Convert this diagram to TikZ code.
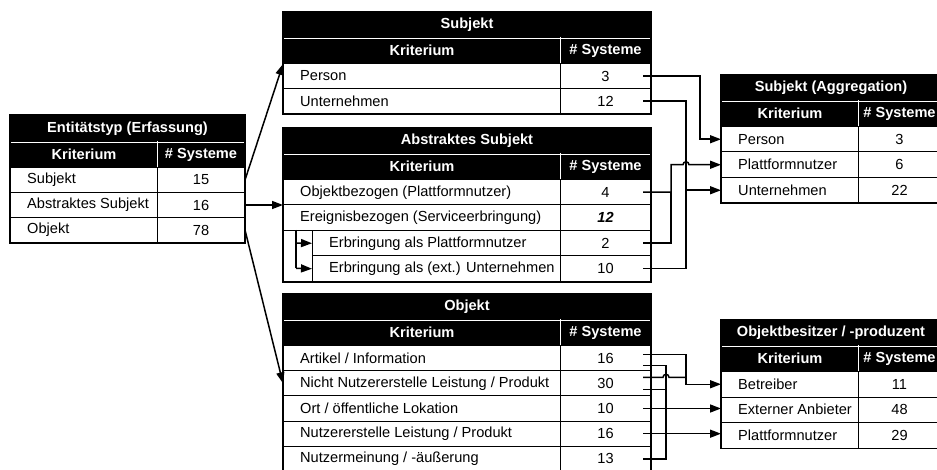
\documentclass[tikz,border=0pt]{standalone}
\usepackage{fontspec}
\setmainfont{Liberation Sans}
\usetikzlibrary{arrows.meta,calc}
\tikzset{
  txt/.style={font=\fontsize{14.6}{17}\selectfont},
  cellbox/.style={txt, draw=black, line width=1pt, inner sep=0pt, anchor=north west},
  celltxt/.style={txt, anchor=west, inner sep=0pt},
  titlebox/.style={txt, fill=black, draw=black, line width=1pt, text=white, font=\fontsize{14.6}{17}\selectfont\bfseries, inner sep=0pt, anchor=north west},
  sepline/.style={white, line width=0.7pt},
  border/.style={draw=black, line width=1.7pt},
  conn/.style={draw=black, line width=1.5pt},
  tip/.style={-{Triangle[length=11pt,width=8pt]}},
}
% name, x0, xc, x1, ytop, h, text, number
\newcommand{\Trow}[8]{%
  \node[cellbox, minimum width={#3-#2}, minimum height=#6] (#1k) at (#2,#5) {};
  \node[celltxt] at ([xshift=17pt]#1k.west) {#7};
  \node[cellbox, minimum width={#4-#3}, minimum height=#6] (#1) at (#3,#5) {#8};
}
% name, x0, xc, x1, ytop, title, titleheight, headerheight
\newcommand{\Thead}[8]{%
  \node[titlebox, minimum width={#4-#2}, minimum height=#7] (#1t) at (#2,#5) {#6};
  \node[titlebox, minimum width={#3-#2}, minimum height=#8] (#1ha) at (#2,#5+#7) {Kriterium};
  \node[titlebox, minimum width={#4-#3}, minimum height=#8] (#1hb) at (#3,#5+#7) {\# Systeme};
  \draw[sepline] ([xshift=1pt]#1t.south west) -- ([xshift=-1pt]#1t.south east);
  \draw[sepline] (#1hb.north west) -- (#1hb.south west);
}
\begin{document}
\begin{tikzpicture}[x=1pt,y=-1pt]
\useasboundingbox (0,0) rectangle (937,470);
\clip (0,0) rectangle (937,470);

% ---------- Table 1: Entitaetstyp ----------
\Thead{ta}{10}{157}{244}{115}{Entitätstyp (Erfassung)}{26}{26}
\Trow{tar1}{10}{157}{244}{167}{25}{Subjekt}{15}
\Trow{tar2}{10}{157}{244}{192}{25}{Abstraktes Subjekt}{16}
\Trow{tar3}{10}{157}{244}{217}{25}{Objekt}{78}
\draw[border] (tat.north west) rectangle (tar3.south east);

% ---------- Table 2: Subjekt ----------
\Thead{tb}{283}{560}{650}{12}{Subjekt}{25}{26}
\Trow{tbr1}{283}{560}{650}{63}{25}{Person}{3}
\Trow{tbr2}{283}{560}{650}{88}{25}{Unternehmen}{12}
\draw[border] (tbt.north west) rectangle (tbr2.south east);

% ---------- Table 3: Abstraktes Subjekt ----------
\Thead{tc}{283}{560}{650}{128}{Abstraktes Subjekt}{25}{26}
\Trow{tcr1}{283}{560}{650}{179}{25.5}{Objektbezogen (Plattformnutzer)}{4}
\Trow{tcr2}{283}{560}{650}{204.5}{25.5}{Ereignisbezogen (Serviceerbringung)}{\textbf{\textit{12}}}
\Trow{tcr3}{312}{560}{650}{230}{25.5}{Erbringung als Plattformnutzer}{2}
\Trow{tcr4}{312}{560}{650}{255.5}{25.5}{Erbringung als (ext.) Unternehmen}{10}
\draw[border] (tct.north west) rectangle (tcr4.south east);
\coordinate (brtop) at (296,230);
\coordinate (br1) at (296,243);
\coordinate (br2) at (296,268.25);
\draw[conn] (brtop) -- (br2);
\draw[conn, tip] (br1) -- (tcr3k.west);
\draw[conn, tip] (br2) -- (tcr4k.west);

% ---------- Table 4: Objekt ----------
\Thead{td}{283}{560}{650}{294}{Objekt}{25}{26}
\Trow{tdr1}{283}{560}{650}{345}{25.2}{Artikel / Information}{16}
\Trow{tdr2}{283}{560}{650}{370.2}{25.2}{Nicht Nutzererstelle Leistung / Produkt}{30}
\Trow{tdr3}{283}{560}{650}{395.4}{25.2}{Ort / öffentliche Lokation}{10}
\Trow{tdr4}{283}{560}{650}{420.6}{25.2}{Nutzererstelle Leistung / Produkt}{16}
\Trow{tdr5}{283}{560}{650}{445.8}{25.2}{Nutzermeinung / -äußerung}{13}
\draw[border] (tdt.north west) rectangle (tdr5.south east);

% ---------- Table 5: Subjekt (Aggregation) ----------
\Thead{te}{721}{858}{940}{75}{Subjekt (Aggregation)}{25}{26}
\Trow{ter1}{721}{858}{940}{126}{25.5}{Person}{3}
\Trow{ter2}{721}{858}{940}{151.5}{25.5}{Plattformnutzer}{6}
\Trow{ter3}{721}{858}{940}{177}{25.5}{Unternehmen}{22}
\draw[border] (tet.north west) rectangle (ter3.south east);

% ---------- Table 6: Objektbesitzer ----------
\Thead{tf}{721}{858}{940}{320}{Objektbesitzer / -produzent}{25}{26}
\Trow{tfr1}{721}{858}{940}{371}{25.5}{Betreiber}{11}
\Trow{tfr2}{721}{858}{940}{396.5}{25.5}{Externer Anbieter}{48}
\Trow{tfr3}{721}{858}{940}{422}{25.5}{Plattformnutzer}{29}
\draw[border] (tft.north west) rectangle (tfr3.south east);

% ---------- connectors from table 1 ----------
\draw[conn, tip] (tar1.east) -- (tbha.south west);
\draw[conn, tip] (tar2.east) -- (tar2.east -| tcr2k.north west);
\draw[conn, tip] (tar3.east) -- (tdr2k.west);

% ---------- subject connectors ----------
\coordinate (sA) at ([xshift=-8pt]tbr1.east);
\coordinate (sB) at ([xshift=-8pt]tbr2.east);
\coordinate (sC) at ([xshift=-8pt]tcr1.east);
\coordinate (sD) at ([xshift=-8pt]tcr3.east);
\coordinate (sE) at ([xshift=-8pt]tcr4.east);
\draw[conn, tip] (sA) -- (sA -| 700,0) -- (700,0 |- ter1k.west) -- (ter1k.west);
\draw[conn, tip] (sB) -- (sB -| 686,0) -- (686,0 |- ter3k.west) -- (ter3k.west);
\draw[conn] (sE) -- (sE -| 686,0) -- (686,0 |- ter3k.west);
\draw[conn] (sD) -- (sD -| 671,0) -- (671,0 |- sC);
\draw[conn, tip] (sC) -- (sC -| 671,0) -- (671,0 |- ter2k.west) -- (683,0 |- ter2k.west)
  arc (180:360:3) -- (ter2k.west);

% ---------- object connectors ----------
\coordinate (oA) at ([xshift=-8pt,yshift=3.5pt]tdr1.east);
\coordinate (oB) at ([xshift=-8pt,yshift=-7.5pt]tdr1.east);
\coordinate (oC) at ([xshift=-8pt,yshift=6pt]tdr2.east);
\coordinate (oD) at ([xshift=-8pt,yshift=-6pt]tdr2.east);
\coordinate (oE) at ([xshift=-8pt]tdr3.east);
\coordinate (oF) at ([xshift=-8pt]tdr4.east);
\coordinate (oG) at ([xshift=-8pt]tdr5.east);
\draw[conn, tip] (oA) -- (oA -| 686,0) -- (686,0 |- tfr1k.west) -- (tfr1k.west);
\draw[conn] (oC) -- (663,0 |- oC) arc (180:360:3) -- (oC -| 686,0);
\draw[conn] (oB) -- (oB -| 666,0) -- (666,0 |- oG) -- (oG);
\draw[conn] (oD) -- (oD -| 666,0);
\draw[conn, tip] (oE) -- (oE -| tfr2k.west);
\draw[conn, tip] (oF) -- (oF -| tfr3k.west);
\end{tikzpicture}
\end{document}
